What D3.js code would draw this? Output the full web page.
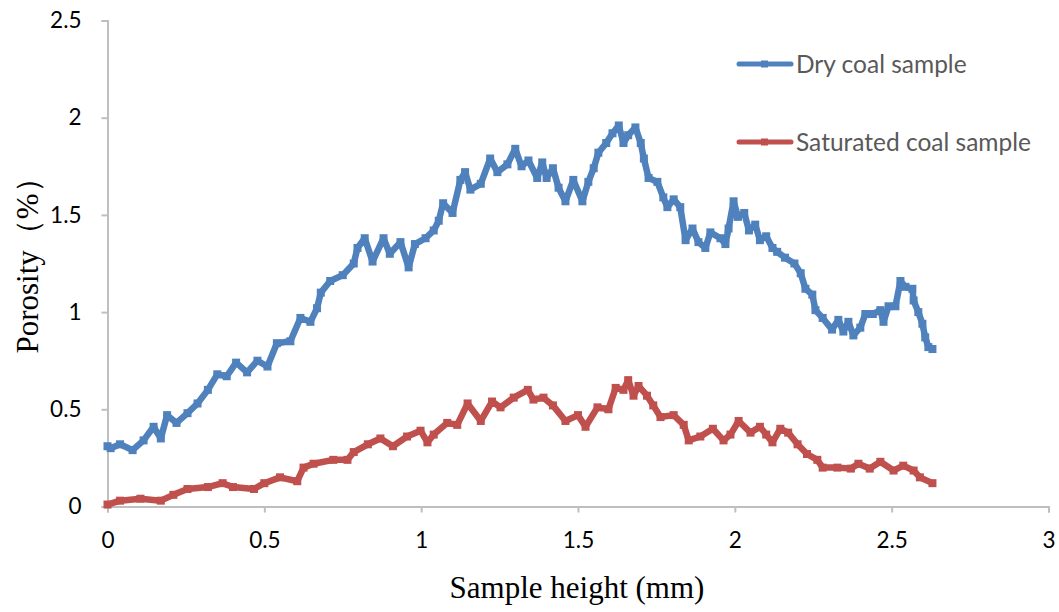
<!DOCTYPE html>
<html><head><meta charset="utf-8">
<script src="https://cdn.jsdelivr.net/npm/d3@7"></script>
<style>body{margin:0;background:#fff}</style>
</head><body><svg id="c" width="1059" height="612"></svg>
<script>
const seriesNames = ["Dry coal sample", "Saturated coal sample"];
const xTicks = [0, 0.5, 1, 1.5, 2, 2.5, 3];
const yTicks = [0, 0.5, 1, 1.5, 2, 2.5];
const dryX = [0,0.01,0.04,0.08,0.115,0.147,0.17,0.19,0.22,0.255,0.287,0.32,0.35,0.38,0.41,0.445,0.478,0.51,0.54,0.583,0.615,0.647,0.668,0.68,0.71,0.75,0.785,0.797,0.82,0.845,0.88,0.90,0.934,0.96,0.98,1.014,1.04,1.056,1.07,1.10,1.125,1.14,1.157,1.19,1.22,1.243,1.275,1.30,1.32,1.342,1.37,1.386,1.40,1.42,1.438,1.46,1.485,1.514,1.533,1.55,1.565,1.59,1.61,1.63,1.645,1.66,1.683,1.70,1.71,1.725,1.753,1.772,1.785,1.805,1.826,1.843,1.865,1.884,1.906,1.922,1.954,1.97,1.98,1.996,2.01,2.03,2.045,2.065,2.08,2.10,2.12,2.135,2.16,2.19,2.21,2.225,2.247,2.257,2.28,2.31,2.33,2.346,2.362,2.378,2.40,2.416,2.44,2.464,2.474,2.49,2.512,2.528,2.544,2.566,2.57,2.585,2.598,2.607,2.617,2.63];
const dryY = [0.31,0.30,0.32,0.29,0.34,0.41,0.35,0.47,0.43,0.48,0.53,0.60,0.68,0.67,0.74,0.69,0.75,0.72,0.84,0.85,0.97,0.95,1.02,1.10,1.16,1.19,1.25,1.33,1.38,1.26,1.38,1.30,1.36,1.23,1.35,1.38,1.42,1.47,1.56,1.51,1.68,1.72,1.63,1.66,1.79,1.72,1.76,1.84,1.75,1.78,1.69,1.77,1.69,1.74,1.64,1.57,1.68,1.57,1.67,1.74,1.82,1.87,1.92,1.96,1.87,1.91,1.95,1.87,1.79,1.69,1.67,1.59,1.54,1.58,1.54,1.37,1.43,1.36,1.33,1.41,1.38,1.35,1.43,1.57,1.49,1.51,1.42,1.45,1.37,1.39,1.33,1.31,1.28,1.25,1.20,1.12,1.09,1.01,0.97,0.91,0.96,0.90,0.95,0.88,0.92,0.99,0.99,1.01,0.95,1.03,1.03,1.16,1.13,1.12,1.06,1.00,0.94,0.87,0.82,0.81];
const satX = [0,0.04,0.105,0.17,0.21,0.255,0.32,0.367,0.40,0.467,0.50,0.55,0.605,0.625,0.657,0.72,0.765,0.785,0.83,0.87,0.91,0.955,0.998,1.02,1.04,1.083,1.115,1.148,1.19,1.226,1.253,1.295,1.34,1.358,1.39,1.42,1.46,1.50,1.524,1.562,1.597,1.62,1.645,1.66,1.677,1.693,1.72,1.74,1.763,1.805,1.837,1.853,1.89,1.93,1.964,1.986,2.012,2.05,2.08,2.10,2.12,2.145,2.17,2.20,2.23,2.263,2.28,2.327,2.37,2.394,2.43,2.464,2.506,2.537,2.57,2.59,2.63];
const satY = [0.01,0.03,0.04,0.03,0.06,0.09,0.10,0.12,0.10,0.09,0.12,0.15,0.13,0.20,0.22,0.24,0.24,0.28,0.32,0.35,0.31,0.36,0.39,0.33,0.37,0.43,0.42,0.53,0.44,0.54,0.51,0.56,0.60,0.55,0.56,0.52,0.44,0.47,0.41,0.51,0.50,0.61,0.60,0.65,0.57,0.62,0.57,0.52,0.46,0.47,0.42,0.34,0.36,0.40,0.34,0.37,0.44,0.38,0.41,0.37,0.33,0.40,0.38,0.32,0.27,0.24,0.20,0.20,0.195,0.22,0.195,0.23,0.185,0.21,0.185,0.15,0.12];
const colors = ["#4F81BD", "#C0504D"];

const svg = d3.select("#c");
const x = d3.scaleLinear().domain([0, 3]).range([107.5, 1048.5]);
const y = d3.scaleLinear().domain([0, 2.5]).range([506.5, 20.5]);
const axisColor = "#bfbfbf";
const tickFont = "Lato, 'Open Sans', sans-serif";

// y axis
const ya = svg.append("g").attr("transform", "translate(107.5,0)")
  .call(d3.axisLeft(y).tickValues(yTicks).tickSize(6).tickPadding(20).tickFormat(d3.format("")));
ya.select(".domain").attr("stroke", axisColor).attr("stroke-width", 2);
ya.selectAll(".tick line").attr("stroke", axisColor).attr("stroke-width", 2);
ya.selectAll(".tick text").attr("font-family", tickFont).attr("font-size", 22.5).attr("fill", "#000");

// x axis
const xa = svg.append("g").attr("transform", "translate(0,506.5)")
  .call(d3.axisBottom(x).tickValues(xTicks).tickSize(6).tickPadding(20).tickFormat(d3.format("")));
xa.select(".domain").attr("stroke", axisColor).attr("stroke-width", 2);
xa.selectAll(".tick line").attr("stroke", axisColor).attr("stroke-width", 2);
xa.selectAll(".tick text").attr("font-family", tickFont).attr("font-size", 22.5).attr("fill", "#000");

// series
const series = [
  {name: seriesNames[0], xs: dryX, ys: dryY, color: colors[0]},
  {name: seriesNames[1], xs: satX, ys: satY, color: colors[1]}
];
const line = d3.line().x(d => x(d[0])).y(d => y(d[1]));
series.forEach(s => {
  const pts = s.xs.map((v, i) => [v, s.ys[i]]);
  svg.append("path").datum(pts).attr("d", line)
    .attr("fill", "none").attr("stroke", s.color).attr("stroke-width", 6.5)
    .attr("stroke-linejoin", "round").attr("stroke-linecap", "round");
  svg.append("g").selectAll("rect").data(pts).join("rect")
    .attr("x", d => x(d[0]) - 4).attr("y", d => y(d[1]) - 4)
    .attr("width", 8).attr("height", 8).attr("fill", s.color);
});

// legend
const legY = [64, 142];
series.forEach((s, i) => {
  const g = svg.append("g");
  g.append("line").attr("x1", 739).attr("x2", 791).attr("y1", legY[i]).attr("y2", legY[i])
    .attr("stroke", s.color).attr("stroke-width", 5).attr("stroke-linecap", "round");
  g.append("rect").attr("x", 761).attr("y", legY[i] - 3.5).attr("width", 7).attr("height", 7).attr("fill", s.color);
  g.append("text").attr("x", 796).attr("y", legY[i]).attr("dy", "0.35em")
    .attr("font-family", tickFont).attr("font-size", 24.5).attr("fill", "#595959").text(s.name);
});

// axis titles
svg.append("text").attr("x", 577).attr("y", 598).attr("text-anchor", "middle")
  .attr("font-family", "'Liberation Serif', 'Times New Roman', serif").attr("font-size", 31).attr("fill", "#000")
  .text("Sample height (mm)");
svg.append("text").attr("transform", "translate(38,258) rotate(-90)").attr("text-anchor", "middle")
  .attr("font-family", "'Liberation Serif', 'Times New Roman', serif").attr("font-size", 31).attr("fill", "#000")
  .text("Porosity（%）");
</script></body></html>
